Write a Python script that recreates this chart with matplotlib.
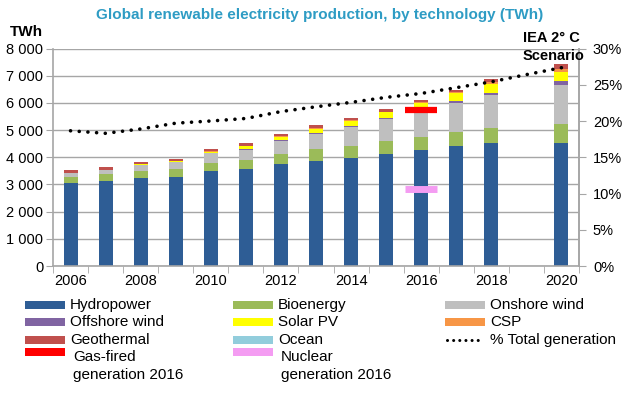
import matplotlib
matplotlib.use("Agg")
import matplotlib.pyplot as plt
import numpy as np
from matplotlib.patches import Rectangle
from matplotlib.lines import Line2D

plt.rcParams['font.family'] = ['Liberation Sans', 'DejaVu Sans']

# ---- data ----
years_bar = [2006, 2007, 2008, 2009, 2010, 2011, 2012, 2013, 2014, 2015, 2016, 2017, 2018, 2020]
hydro    = [3066, 3127, 3248, 3285, 3491, 3552, 3759, 3853, 3988, 4135, 4258, 4405, 4540, 4540]
bio      = [206, 243, 256, 292, 305, 329, 365, 441, 417, 454, 490, 515, 552, 699]
onshore  = [134, 146, 194, 255, 352, 401, 487, 577, 712, 822, 940, 1080, 1215, 1436]
offshore = [3, 5, 7, 9, 12, 16, 20, 25, 30, 40, 45, 55, 65, 120]
solar    = [20, 22, 30, 30, 45, 100, 115, 160, 190, 200, 265, 300, 340, 340]
csp      = [5, 5, 8, 8, 10, 15, 18, 22, 25, 28, 30, 35, 45, 100]
geo      = [90, 85, 85, 70, 75, 95, 85, 95, 95, 85, 90, 95, 110, 180]
ocean    = [5, 5, 5, 5, 5, 5, 5, 5, 5, 5, 5, 5, 5, 8]

years_pct = [2006, 2007, 2008, 2009, 2010, 2011, 2012, 2013, 2014, 2015, 2016, 2017, 2018, 2019, 2020]
pct_total = [18.65, 18.3, 18.9, 19.7, 20.0, 20.35, 21.3, 21.96, 22.57, 23.26, 23.8, 24.6, 25.4, 26.4, 27.35]

gas_year, gas_2016 = 2016, 5750
nuclear_year, nuclear_2016 = 2016, 2850

x_labels = [2006, 2008, 2010, 2012, 2014, 2016, 2018, 2020]
y_ticks = [0, 1000, 2000, 3000, 4000, 5000, 6000, 7000, 8000]
y_labels = ["0", "1 000", "2 000", "3 000", "4 000", "5 000", "6 000", "7 000", "8 000"]
pct_ticks = [0, 5, 10, 15, 20, 25, 30]

series = [
    ("Hydropower", hydro, "#2e5d95"),
    ("Bioenergy", bio, "#9bbb59"),
    ("Onshore wind", onshore, "#bfbfbf"),
    ("Offshore wind", offshore, "#8064a2"),
    ("Solar PV", solar, "#ffff00"),
    ("CSP", csp, "#f79646"),
    ("Geothermal", geo, "#c0504d"),
    ("Ocean", ocean, "#92cddc"),
]
colors = {name: col for name, _, col in series}
gas_col = "#ff0000"
nuc_col = "#f49cf2"

W, H = 640, 394
fig = plt.figure(figsize=(W / 100, H / 100), dpi=100)
ax = fig.add_axes([53 / W, 1 - 266 / H, (579 - 53) / W, (266 - 48.5) / H])

grid_c = "#a6a6a6"
ax.set_axisbelow(True)
ax.yaxis.grid(True, color=grid_c, lw=1)

bottom = np.zeros(len(years_bar))
for name, vals, col in series:
    ax.bar(years_bar, vals, width=0.4, bottom=bottom, color=col, edgecolor='none', zorder=2)
    bottom += np.array(vals)

ax.hlines(gas_2016, gas_year - 0.46, gas_year + 0.46, color=gas_col, lw=4.5, zorder=4)
ax.hlines(nuclear_2016, nuclear_year - 0.46, nuclear_year + 0.46, color=nuc_col, lw=5, zorder=4)

ax.set_xlim(2005.5, 2020.5)
ax.set_ylim(0, 8000)
ax.set_yticks(y_ticks)
ax.set_yticklabels(y_labels, fontsize=10.5)
ax.set_xticks(x_labels)
ax.set_xticklabels([str(v) for v in x_labels], fontsize=10.5)
ax.set_xticks(np.arange(2005.5, 2021, 1.0), minor=True)
ax.tick_params(axis='x', which='major', length=0, pad=6)
ax.tick_params(axis='x', which='minor', length=5, color=grid_c, direction='out')
ax.tick_params(axis='y', length=5, color=grid_c, direction='out', pad=2)
ax.spines['top'].set_visible(False)
for s in ['left', 'bottom', 'right']:
    ax.spines[s].set_color(grid_c)
    ax.spines[s].set_linewidth(1.2)

ax2 = ax.twinx()
ax2.set_ylim(0, 30)
ax2.set_yticks(pct_ticks)
ax2.set_yticklabels([f"{v}%" for v in pct_ticks], fontsize=10.5)
ax2.tick_params(axis='y', length=5, color=grid_c, direction='out', pad=5)
for s in ['top', 'left', 'bottom']:
    ax2.spines[s].set_visible(False)
ax2.spines['right'].set_color(grid_c)
ax2.spines['right'].set_linewidth(1.2)
ax2.plot(years_pct, pct_total, color='black', lw=2.6,
         linestyle=(0, (0.01, 2.4)), dash_capstyle='round', zorder=5)

fig.text(0.5, 1 - 15 / H, "Global renewable electricity production, by technology (TWh)",
         ha='center', va='center', color="#2e9cc4", fontsize=11, fontweight='bold')
fig.text(10 / W, 1 - 32 / H, "TWh", ha='left', va='center', fontsize=11, fontweight='bold')
fig.text(580 / W, 1 - 38 / H, "IEA 2° C", ha='right', va='center', fontsize=10.5, fontweight='bold')
fig.text(584 / W, 1 - 56 / H, "Scenario", ha='right', va='center', fontsize=10.5, fontweight='bold')

# ---- legend (manual layout in pixel positions) ----
legend_cols = [25, 233, 445]
legend_rows = [305, 322, 340]
legend_items = [
    [("Hydropower", colors["Hydropower"]), ("Offshore wind", colors["Offshore wind"]),
     ("Geothermal", colors["Geothermal"])],
    [("Bioenergy", colors["Bioenergy"]), ("Solar PV", colors["Solar PV"]),
     ("Ocean", colors["Ocean"])],
    [("Onshore wind", colors["Onshore wind"]), ("CSP", colors["CSP"]), None],
]
hw, hh = 40, 8
lfs = 11
for ci, col_items in enumerate(legend_items):
    x0 = legend_cols[ci]
    for ri, item in enumerate(col_items):
        y = legend_rows[ri]
        if item is None:
            fig.add_artist(Line2D([(x0 + 2) / W, (x0 + hw - 2) / W], [1 - y / H, 1 - y / H],
                                  transform=fig.transFigure, color='black', lw=2.2,
                                  linestyle=(0, (0.01, 2.0)), dash_capstyle='round'))
            fig.text((x0 + hw + 5) / W, 1 - y / H, "% Total generation", ha='left', va='center', fontsize=lfs)
            continue
        label, c = item
        fig.add_artist(Rectangle((x0 / W, 1 - (y + hh / 2) / H), hw / W, hh / H,
                                 transform=fig.transFigure, facecolor=c, edgecolor='none'))
        fig.text((x0 + hw + 5) / W, 1 - y / H, label, ha='left', va='center', fontsize=lfs)

for x0, c, l1 in [(legend_cols[0], gas_col, "Gas-fired"), (legend_cols[1], nuc_col, "Nuclear")]:
    yh = 352
    fig.add_artist(Rectangle((x0 / W, 1 - (yh + hh / 2) / H), hw / W, hh / H,
                             transform=fig.transFigure, facecolor=c, edgecolor='none'))
    fig.text((x0 + hw + 8) / W, 1 - 357 / H, l1, ha='left', va='center', fontsize=lfs)
    fig.text((x0 + hw + 8) / W, 1 - 375 / H, "generation 2016", ha='left', va='center', fontsize=lfs)

fig.savefig("out.png", dpi=100)
